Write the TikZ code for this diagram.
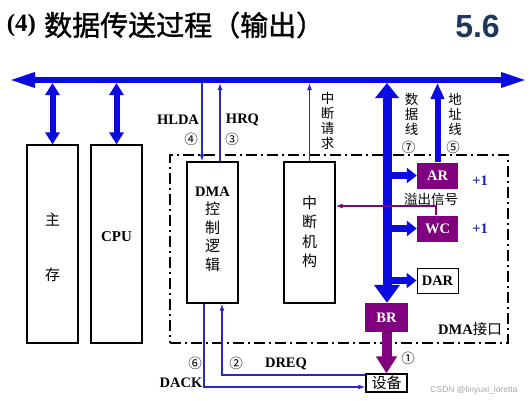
\documentclass[tikz,border=0pt]{standalone}
\usepackage{fontspec}
\setmainfont{Liberation Serif}
\newfontfamily\cjk{Noto Sans CJK SC}
\newfontfamily\cjkheavy[FakeBold=1.2]{Noto Sans CJK SC}
\newfontfamily\arialf{Liberation Sans}
\usetikzlibrary{arrows.meta}
\definecolor{busblue}{RGB}{10,10,225}
\definecolor{sigblue}{RGB}{40,40,200}
\definecolor{regpurple}{RGB}{128,0,128}
\definecolor{titlegray}{RGB}{30,55,90}
\definecolor{plusblue}{RGB}{30,30,170}
\begin{document}
\begin{tikzpicture}[x=1pt,y=-1pt,
  box/.style={draw=black, line width=1.2pt, fill=white, inner sep=0pt, minimum width=51pt},
  reg/.style={fill=regpurple, text=white, font=\bfseries\fontsize{14.5}{16}\selectfont, inner sep=0pt, minimum width=41pt, minimum height=26pt},
  wreg/.style={draw=black, line width=1pt, fill=white, font=\bfseries\fontsize{14.5}{16}\selectfont, inner sep=0pt, minimum width=41pt, minimum height=25pt},
  bus/.style={draw=busblue, line width=6pt},
  sig/.style={draw=sigblue, line width=1.3pt},
  tip/.style={-{Latex[length=7pt,width=5pt]}},
  lab/.style={font=\bfseries\fontsize{14.5}{16}\selectfont, inner sep=0pt},
  cj/.style={font=\cjk\fontsize{15}{19}\selectfont, inner sep=0pt, align=center},
  vcj/.style={font=\cjk\fontsize{13.5}{15}\selectfont, inner sep=0pt, align=center},
  num/.style={font=\cjk\fontsize{13.5}{15}\selectfont, inner sep=0pt},
  dashdot/.style={draw=black, line width=1.4pt, dash pattern=on 11pt off 4pt on 2pt off 4pt}
]
\useasboundingbox (0,0) rectangle (530,400);

% title
\node[font=\bfseries\fontsize{25}{28}\selectfont, inner sep=0pt] (t4) at (21.5,25) {(4)};
\node[font=\cjkheavy\fontsize{28}{32}\selectfont, inner sep=0pt, anchor=west] (title) at (44,25) {数据传送过程（输出）};
\node[font=\arialf\bfseries\fontsize{32}{36}\selectfont, text=titlegray, inner sep=0pt] (sec) at (477.5,26.5) {5.6};

% DMA interface frame
\node[dashdot, minimum width=338pt, minimum height=188pt, inner sep=0pt] (iface) at (339,249) {};

% boxes
\node[box, minimum height=198pt] (mem) at (52.5,244) {};
\node[cj, font=\cjk\fontsize{15}{55}\selectfont] (memt) at (52.5,247.5) {主\\存};
\node[box, minimum height=198pt] (cpu) at (116.5,244) {};
\node[lab, font=\bfseries\fontsize{15}{16}\selectfont] (cput) at (116.5,237) {CPU};
\node[box, minimum height=141pt] (dma) at (212.5,232.5) {};
\node[cj, font=\fontsize{15}{18.5}\selectfont] (dmat) at (212.5,229) {\bfseries\fontsize{14.5}{18.5}\selectfont DMA\\\cjk 控\\\cjk 制\\\cjk 逻\\\cjk 辑};
\node[box, minimum height=141pt] (intr) at (309.5,232.5) {};
\node[cj, font=\cjk\fontsize{15}{19.5}\selectfont] (intrt) at (309.5,232) {中\\断\\机\\构};

\node[reg] (AR) at (437.5,175.5) {AR};
\node[reg] (WC) at (437.5,228.5) {WC};
\node[wreg] (DAR) at (437.5,280.5) {DAR};
\node[reg, minimum width=43pt, minimum height=29pt] (BR) at (386.5,317.5) {BR};
\node[draw=black, line width=1.2pt, fill=white, inner sep=0pt, minimum width=41pt, minimum height=18pt, font=\cjk\fontsize{15}{16}\selectfont] (dev) at (386.5,383) {设备};

% system bus
\coordinate (busL) at (9,80);
\coordinate (busR) at (527,80);
\draw[bus, {Triangle[length=26pt,width=14pt]}-{Triangle[length=26pt,width=14pt]}] (busL) -- (busR);

% memory / cpu links
\coordinate (mb) at (52.5,83);
\coordinate (cb) at (116.5,83);
\draw[bus, {Triangle[length=12pt,width=14pt]}-{Triangle[length=12pt,width=14pt]}] (mb) -- (mem.north);
\draw[bus, {Triangle[length=12pt,width=14pt]}-{Triangle[length=12pt,width=14pt]}] (cb) -- (cpu.north);

% HLDA / HRQ
\coordinate (hlda) at (202,83);
\coordinate (hrq) at (220,83);
\draw[sig, tip] (hlda) -- (hlda |- dma.north);
\draw[sig, tip] (hrq |- dma.north) -- (hrq);
% interrupt request
\coordinate (irq) at (309.5,83);
\draw[sig, tip] (intr.north) -- (irq);

% data line
\coordinate (dtop) at (387,83);
\draw[draw=busblue, line width=9pt, {Triangle[length=15pt,width=23pt]}-{Triangle[length=18pt,width=25pt]}] (dtop) -- (dtop |- BR.north);
% address line
\coordinate (atop) at (437.5,83);
\draw[bus, -{Triangle[length=16pt,width=13pt]}] (AR.north) -- (atop);
% branches
\draw[draw=busblue, line width=6.5pt, -{Triangle[length=10pt,width=15pt]}] (AR.west -| dtop) -- (AR.west);
\draw[draw=busblue, line width=6.5pt, -{Triangle[length=10pt,width=15pt]}] (WC.west -| dtop) -- (WC.west);
\draw[draw=busblue, line width=6.5pt, -{Triangle[length=10pt,width=15pt]}] (DAR.west -| dtop) -- (DAR.west);
% BR -> device
\draw[draw=regpurple, line width=10pt, -{Triangle[length=17pt,width=20pt]}] (BR.south) -- (dev.north);

% overflow signal
\draw[draw=regpurple, line width=1.2pt, tip] ([xshift=-1.5pt]WC.north) |- ([yshift=26.5pt]intr.east);

% DREQ / DACK
\draw[sig, tip] ([yshift=8pt]dev.west) -| ([xshift=9.5pt]dma.south);
\draw[sig, tip] ([xshift=-8.5pt]dma.south) |- ([yshift=-4pt]dev.west);

% labels
\node[lab] (lhlda) at (178,120) {HLDA};
\node[num] (n4) at (191,139) {④};
\node[lab] (lhrq) at (242.5,120) {HRQ};
\node[num] (n3) at (232,139) {③};
\node[vcj] (lirq) at (327.5,121) {中\\断\\请\\求};
\node[vcj] (ldata) at (411.5,114) {数\\据\\线};
\node[num] (n7) at (408.5,147.5) {⑦};
\node[vcj] (laddr) at (455,114) {地\\址\\线};
\node[num] (n5) at (453,147.5) {⑤};
\node[lab, text=plusblue] (p1) at (480,181) {+1};
\node[lab, text=plusblue] (p2) at (480,229) {+1};
\node[vcj] (lovf) at (431,199) {溢出信号};
\node[lab] (lif) at (470,329) {DMA{\cjk\mdseries 接口}};
\node[num] (n1) at (408,358) {①};
\node[num] (n6) at (195,363) {⑥};
\node[num] (n2) at (236,363) {②};
\node[lab] (ldreq) at (286,364) {DREQ};
\node[lab] (ldack) at (181,383) {DACK};
\node[font=\arialf\fontsize{8.5}{10}\selectfont, text=black!35, inner sep=0pt] (wm) at (474,390) {CSDN @linyuxi\_loretta};
\end{tikzpicture}
\end{document}
